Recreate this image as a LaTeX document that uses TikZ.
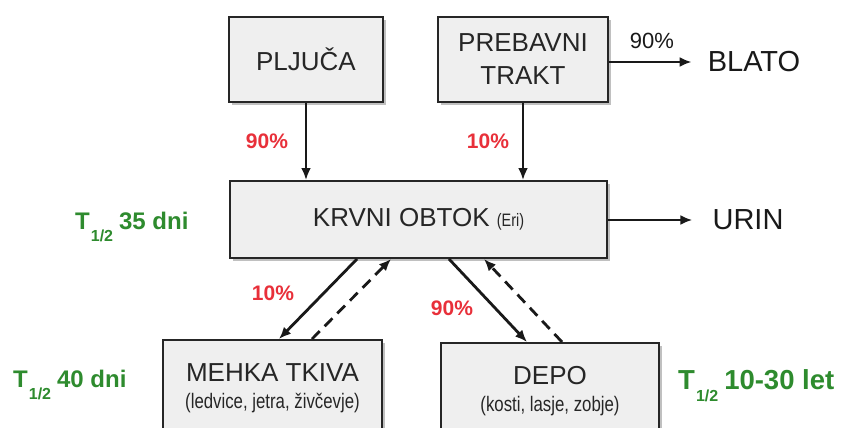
\documentclass[tikz,border=0pt]{standalone}
\usepackage{fontspec}
\setmainfont{Liberation Sans}
\newfontfamily\narrowfont[FakeStretch=0.8]{Liberation Sans}
\usetikzlibrary{arrows.meta,shadows,calc}
\definecolor{boxfill}{HTML}{EFEFEF}
\definecolor{pctred}{HTML}{E8303A}
\definecolor{tgreen}{HTML}{2E8B2E}
\newcommand{\halflife}[2]{T\kern1pt\raisebox{-#1}{\fontsize{16}{16}\selectfont 1/2}\kern6pt #2}
\begin{document}
\begin{tikzpicture}[x=1pt,y=-1pt,
  organ/.style={draw=black!85, line width=2pt, fill=boxfill, align=center, inner sep=0pt,
    text=black!85, font=\fontsize{26}{33}\selectfont,
    drop shadow={shadow xshift=3pt, shadow yshift=-3pt, fill=black!45, opacity=0.55}},
  flow/.style={line width=2.8pt, draw=black!90, -{Latex[length=12pt,width=10pt]}},
  back/.style={flow, dash pattern=on 11pt off 7pt},
  pct/.style={text=pctred, font=\bfseries\fontsize{21}{21}\selectfont},
  half/.style={text=tgreen, font=\bfseries\fontsize{24}{24}\selectfont, anchor=base west, inner sep=0pt},
  halfbig/.style={half, font=\bfseries\fontsize{27.5}{27.5}\selectfont},
  outlbl/.style={font=\fontsize{29}{29}\selectfont, text=black!90, inner sep=0pt}]
\useasboundingbox (0,0) rectangle (848,428);
\clip (0,0) rectangle (848,428);

% boxes
\node[organ, minimum width=154pt, minimum height=85pt] (pluca) at (306,59.5) {PLJUČA};
\node[organ, minimum width=170pt, minimum height=85pt] (prebavni) at (523,59.5) {PREBAVNI\\TRAKT};
\node[organ, minimum width=377pt, minimum height=77pt] (krvni) at (418.5,219.5)
  {KRVNI OBTOK {\narrowfont\fontsize{18}{18}\selectfont(Eri)}};
\node[organ, anchor=north, minimum width=219pt, minimum height=97pt] (mehka) at (272.5,339)
  {MEHKA TKIVA\\[-6pt]{\narrowfont\fontsize{21}{24}\selectfont(ledvice, jetra, živčevje)}};
\node[organ, anchor=north, minimum width=218pt, minimum height=96pt] (depo) at (550,342)
  {DEPO\\[-6pt]{\narrowfont\fontsize{21}{24}\selectfont(kosti, lasje, zobje)}};

% outputs
\node[outlbl] (blato) at (754,62) {BLATO};
\node[outlbl] (urin) at (748,220) {URIN};
\node[font=\fontsize{22}{22}\selectfont, text=black!90] (p90b) at (652,41) {90\%};

% arrows
\draw[flow] (pluca.south) -- (pluca.south |- krvni.north);
\draw[flow] (prebavni.south) -- (prebavni.south |- krvni.north);
\draw[flow, shorten >=16pt] (prebavni.east |- blato) -- (blato.west);
\draw[flow, shorten >=20pt] (krvni.east |- urin) -- (urin.west);
\draw[flow] ($(krvni.south west)+(128,0)$) -- ($(mehka.north west)+(117,0)$);
\draw[back] ($(mehka.north west)+(150,0)$) -- ($(krvni.south west)+(162,0)$);
\draw[flow] ($(krvni.south west)+(220,0)$) -- ($(depo.north west)+(87,0)$);
\draw[back] ($(depo.north west)+(122,0)$) -- ($(krvni.south west)+(255,0)$);

% percentages
\node[pct] (p1) at (267,141) {90\%};
\node[pct] (p2) at (488,141) {10\%};
\node[pct] (p3) at (273,293) {10\%};
\node[pct] (p4) at (452,308) {90\%};

% half-lives
\node[half] (h1) at (75,229) {\halflife{12pt}{35 dni}};
\node[half] (h2) at (13,387) {\halflife{12pt}{40 dni}};
\node[halfbig] (h3) at (678,389) {\halflife{12pt}{10-30 let}};
\end{tikzpicture}
\end{document}
